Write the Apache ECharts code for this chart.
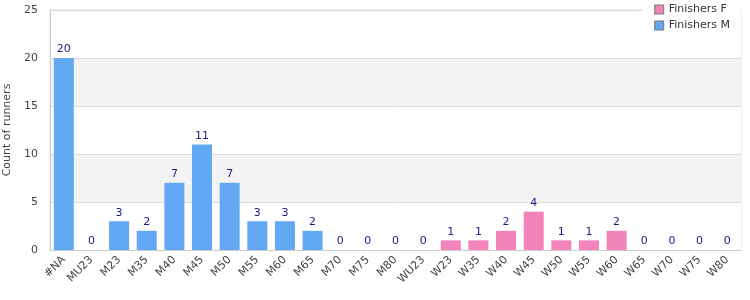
<!DOCTYPE html>
<html><head><meta charset="utf-8">
<script src="https://cdn.jsdelivr.net/npm/echarts@6/dist/echarts.min.js"></script>
<style>html,body{margin:0;padding:0;background:#fff}#c{width:750px;height:300px}</style>
</head><body><div id="c"></div>
<script>
const categories = ['#NA','MU23','M23','M35','M40','M45','M50','M55','M60','M65','M70','M75','M80','WU23','W23','W35','W40','W45','W50','W55','W60','W65','W70','W75','W80'];
const finishersM = [20,0,3,2,7,11,7,3,3,2,0,0,0,'-','-','-','-','-','-','-','-','-','-','-','-'];
const finishersF = ['-','-','-','-','-','-','-','-','-','-','-','-','-',0,1,1,2,4,1,1,2,0,0,0,0];
const yTicks = [0,5,10,15,20,25];

const chart = echarts.init(document.getElementById('c'));
const lbl = {show:true, position:'top', color:'#1a1a8a', fontSize:11, fontFamily:'DejaVu Sans', distance:3};
chart.setOption({
  animation:false,
  grid:{left:50, right:9, top:10, bottom:50, containLabel:false, outerBoundsMode:'none', show:true, borderColor:'#dcdcdc', borderWidth:1},
  legend:{
    orient:'vertical', right:10, top:2, itemWidth:9, itemHeight:9, itemGap:5,
    backgroundColor:'#fff', padding:[2,10,2,12],
    textStyle:{color:'#333', fontSize:11, fontFamily:'DejaVu Sans'},
    data:[{name:'Finishers F', icon:'rect', itemStyle:{borderColor:'#777', borderWidth:1}},
          {name:'Finishers M', icon:'rect', itemStyle:{borderColor:'#777', borderWidth:1}}]
  },
  xAxis:{
    type:'category', data:categories,
    axisLine:{lineStyle:{color:'#ccc'}}, axisTick:{show:false},
    axisLabel:{rotate:45, interval:0, color:'#444', fontSize:11, fontFamily:'DejaVu Sans', margin:8}
  },
  yAxis:{
    type:'value', min:yTicks[0], max:yTicks[yTicks.length-1], interval:5,
    name:'Count of runners', nameLocation:'middle', nameGap:33,
    nameTextStyle:{color:'#444', fontSize:11, fontFamily:'DejaVu Sans'},
    axisLine:{show:true, lineStyle:{color:'#ccc'}}, axisTick:{show:false},
    axisLabel:{color:'#444', fontSize:11, fontFamily:'DejaVu Sans', margin:12},
    splitLine:{show:true, lineStyle:{color:'#dcdcdc'}},
    splitArea:{show:true, areaStyle:{color:['#ffffff','#f3f3f3']}}
  },
  series:[
    {name:'Finishers F', type:'bar', stack:'a', data:finishersF, barWidth:20, itemStyle:{color:'#f283bb'}, label:lbl},
    {name:'Finishers M', type:'bar', stack:'a', data:finishersM, barWidth:20, itemStyle:{color:'#62a8f2'}, label:lbl}
  ]
});
</script></body></html>
